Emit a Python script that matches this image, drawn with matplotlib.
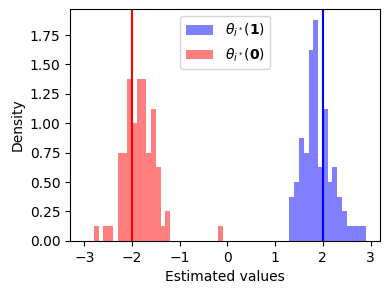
import numpy as np
import matplotlib
matplotlib.use("Agg")
import matplotlib.pyplot as plt

# shared bins of width 0.1 from -3.0 to 2.9
bin_edges = np.round(np.arange(-3.0, 2.95, 0.1), 1)

# counts per bin (80 estimates each)
# theta(0): starts at bin [-2.8, -2.7]
counts_0_start = -2.8
counts_0 = [1, 0, 1, 1, 0, 6, 6, 11, 8, 11, 11, 6, 9, 5, 1, 2,
            0, 0, 0, 0, 0, 0, 0, 0, 0, 0, 1]
# theta(1): starts at bin [1.3, 1.4]
counts_1_start = 1.3
counts_1 = [3, 4, 7, 6, 13, 15, 5, 9, 4, 5, 3, 2, 1, 1, 1, 1]

true_0 = -2.0
true_1 = 2.0


def full_weights(start, counts):
    w = np.zeros(len(bin_edges) - 1)
    i0 = int(round((start - bin_edges[0]) / 0.1))
    w[i0:i0 + len(counts)] = counts
    return w


centers = (bin_edges[:-1] + bin_edges[1:]) / 2
w1 = full_weights(counts_1_start, counts_1)
w0 = full_weights(counts_0_start, counts_0)

fig, ax = plt.subplots(figsize=(3.9, 2.94), dpi=100)
fig.subplots_adjust(left=0.18, right=0.974, top=0.968, bottom=0.181)

ax.hist(centers, bins=bin_edges, weights=w1, density=True, color="blue",
        alpha=0.5, label=r"$\theta_{i^*}(\mathbf{1})$")
ax.hist(centers, bins=bin_edges, weights=w0, density=True, color="red",
        alpha=0.5, label=r"$\theta_{i^*}(\mathbf{0})$")
ax.axvline(true_0, color="red")
ax.axvline(true_1, color="blue")

ax.set_xlabel("Estimated values")
ax.set_ylabel("Density")
ax.legend(loc="upper center")

fig.savefig("out.png", dpi=100)
